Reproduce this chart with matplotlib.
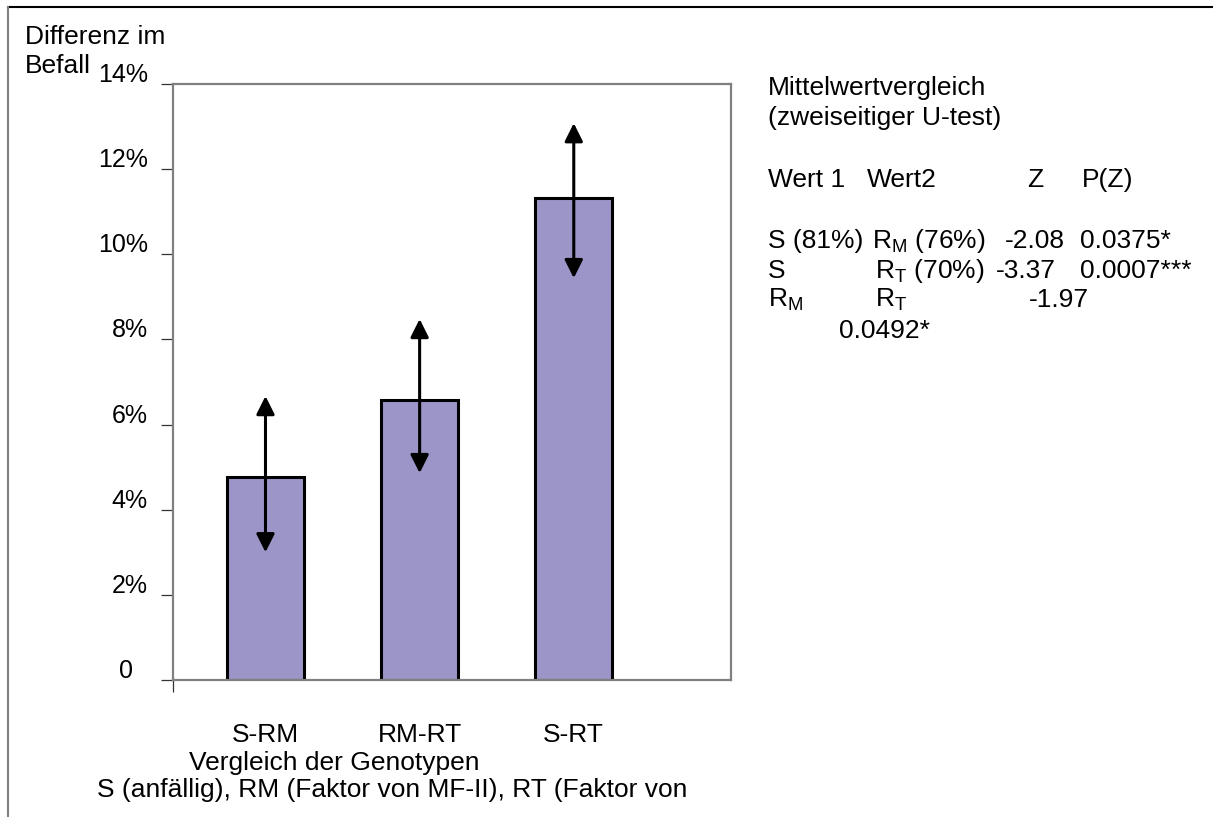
import matplotlib
matplotlib.use("Agg")
import matplotlib.pyplot as plt
from matplotlib.lines import Line2D
from matplotlib.transforms import ScaledTranslation

plt.rcParams['font.family'] = ['Liberation Sans', 'DejaVu Sans']
plt.rcParams['mathtext.fontset'] = 'custom'
plt.rcParams['mathtext.rm'] = 'Liberation Sans'
plt.rcParams['mathtext.it'] = 'Liberation Sans'

# data
categories = ["S-RM", "RM-RT", "S-RT"]
diff = [4.77, 6.58, 11.32]        # Differenz im Befall (%)
arrow_lo = [3.00, 4.86, 9.44]
arrow_hi = [6.67, 8.48, 13.08]
yticks = [0, 2, 4, 6, 8, 10, 12, 14]
ytick_labels = ["0", "2%", "4%", "6%", "8%", "10%", "12%", "14%"]

# U-test table on the right
table_header = ["Wert 1", "Wert2", "Z", "P(Z)"]
table_rows = [
    ["S (81%)", "R$_\\mathrm{M}$ (76%)", "-2.08", "0.0375*"],
    ["S", "R$_\\mathrm{T}$ (70%)", "-3.37", "0.0007***"],
    ["R$_\\mathrm{M}$", "R$_\\mathrm{T}$", "-1.97", "0.0492*"],
]

W, H = 1213, 817
fig = plt.figure(figsize=(W / 100, H / 100), dpi=100)


def px(x, y):
    return x / W, 1 - y / H


fs = 19
grey = "#808080"

ax = fig.add_axes([173 / W, 1 - 680 / H, (731 - 173) / W, (680 - 84) / H])
x = list(range(len(categories)))
ax.bar(x, diff, width=0.5, color="#9c96c8", edgecolor="black", linewidth=2.2, zorder=2)
for xi, lo, hi in zip(x, arrow_lo, arrow_hi):
    ax.annotate("", xy=(xi, hi), xytext=(xi, lo),
                arrowprops=dict(arrowstyle="<|-|>,head_length=1.1,head_width=0.55",
                                mutation_scale=10, lw=2.2, color="black",
                                shrinkA=0, shrinkB=0), zorder=3)

ax.set_xlim(-0.6, 3.02)
ax.set_ylim(0, 14)
for sp in ax.spines.values():
    sp.set_color(grey)
    sp.set_linewidth(1.6)

ax.set_yticks(yticks)
ax.set_yticklabels(ytick_labels, fontsize=18)
ax.tick_params(axis="y", direction="out", length=8.5, width=0.9, color="#333333", pad=9.5)
for lab in ax.get_yticklabels():
    lab.set_va("baseline")
    dx = -0.15 if lab.get_text() == "0" else 0
    lab.set_transform(lab.get_transform() + ScaledTranslation(dx, 0.02, fig.dpi_scale_trans))

ax.set_xticks(x)
ax.set_xticklabels(categories, fontsize=fs)
ax.tick_params(axis="x", which="major", length=0, pad=31)
ax.set_xticks([-0.6], minor=True)
ax.tick_params(axis="x", which="minor", direction="out", length=8.5, width=0.9, color="#333333")

# axis titles
fig.text(*px(25, 44), "Differenz im", fontsize=fs, va="baseline")
fig.text(*px(25, 73), "Befall", fontsize=fs, va="baseline")
fig.text(*px(334, 770), "Vergleich der Genotypen", fontsize=fs, ha="center", va="baseline")
fig.text(*px(392, 797), "S (anfällig), RM (Faktor von MF-II), RT (Faktor von",
         fontsize=fs, ha="center", va="baseline")

# side text with test results
fig.text(*px(768, 95), "Mittelwertvergleich", fontsize=fs, va="baseline")
fig.text(*px(768, 125), "(zweiseitiger U-test)", fontsize=fs, va="baseline")
for s, cx in zip(table_header, [768, 867, 1027, 1082]):
    fig.text(*px(cx, 187), s, fontsize=fs, va="baseline")
fig.text(*px(768, 248), table_rows[0][0], fontsize=fs, va="baseline")
fig.text(*px(872, 248), table_rows[0][1], fontsize=fs, va="baseline")
fig.text(*px(1005, 248), table_rows[0][2], fontsize=fs, va="baseline")
fig.text(*px(1080, 248), table_rows[0][3], fontsize=fs, va="baseline")
fig.text(*px(768, 278), table_rows[1][0], fontsize=fs, va="baseline")
fig.text(*px(875, 278), table_rows[1][1], fontsize=fs, va="baseline")
fig.text(*px(996, 278), table_rows[1][2], fontsize=fs, va="baseline")
fig.text(*px(1080, 278), table_rows[1][3], fontsize=fs, va="baseline")
fig.text(*px(768, 307), table_rows[2][0], fontsize=fs, va="baseline")
fig.text(*px(875, 307), table_rows[2][1], fontsize=fs, va="baseline")
fig.text(*px(1029, 307), table_rows[2][2], fontsize=fs, va="baseline")
# last p-value wraps onto its own line
fig.text(*px(839, 338), table_rows[2][3], fontsize=fs, va="baseline")

# outer frame (top and left only)
fig.add_artist(Line2D([8 / W, 1], [1 - 7 / H, 1 - 7 / H], color="black", lw=1.5))
fig.add_artist(Line2D([8 / W, 8 / W], [0, 1 - 7 / H], color=grey, lw=1.5))

fig.savefig("out.png", dpi=100)
